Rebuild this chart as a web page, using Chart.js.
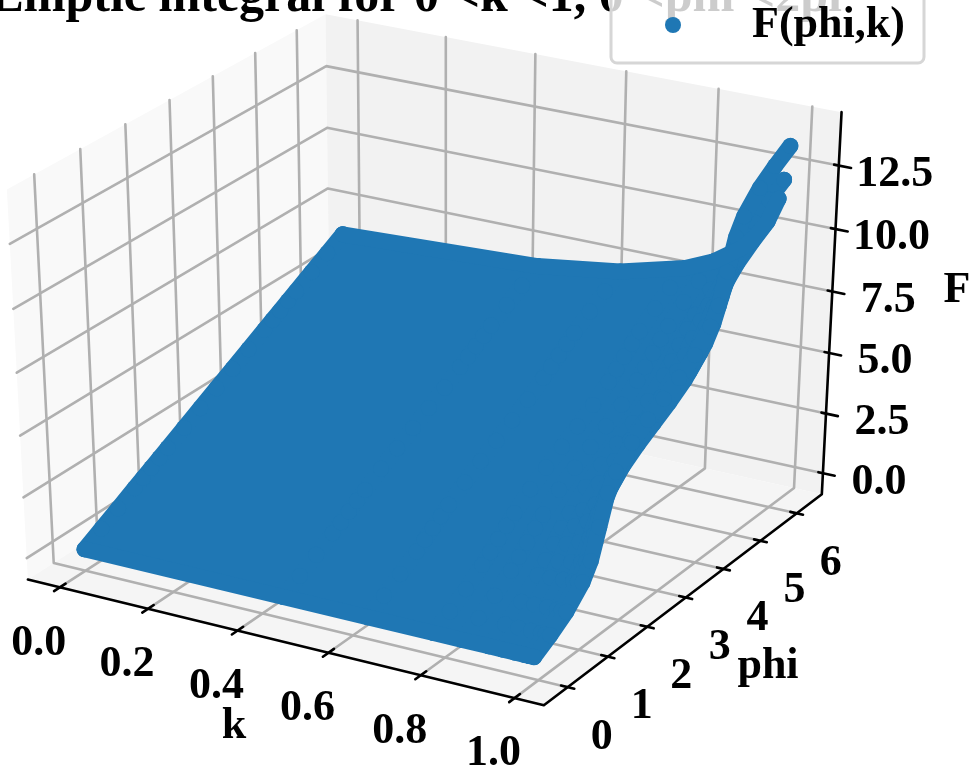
<!DOCTYPE html>
<html>
<head>
<meta charset="utf-8">
<title>Elliptic integral</title>
<script src="https://cdn.jsdelivr.net/npm/chart.js@4/dist/chart.umd.js"></script>
<style>
  html, body { margin: 0; padding: 0; background: #fff; overflow: hidden; }
  canvas { display: block; }
</style>
</head>
<body>
<canvas id="chart" width="969" height="771"></canvas>
<script>
// ── Data
const titleText = 'Elliptic integral for 0 <k <1, 0 <phi <2pi';
const legendText = 'F(phi,k)';

const kTicks = [0, 0.2, 0.4, 0.6, 0.8, 1];
const kTickLabels = ['0.0', '0.2', '0.4', '0.6', '0.8', '1.0'];
const phiTicks = [0, 1, 2, 3, 4, 5, 6];
const phiTickLabels = ['0', '1', '2', '3', '4', '5', '6'];
const fTicks = [0, 2.5, 5, 7.5, 10, 12.5];
const fTickLabels = ['0.0', '2.5', '5.0', '7.5', '10.0', '12.5'];

const kValues = [0, 0.447, 0.632, 0.775, 0.837, 0.894, 0.922, 0.949, 0.97, 0.98, 0.99];
const phiValues = [0, 0.393, 0.785, 1.178, 1.374, 1.571, 1.767, 1.963, 2.356, 2.749, 3.142, 3.534, 3.927, 4.32, 4.516, 4.712, 4.909, 5.105, 5.498, 5.89, 6.283];

const fAtK000 = [0, 0.393, 0.785, 1.178, 1.374, 1.571, 1.767, 1.963, 2.356, 2.749, 3.142, 3.534, 3.927, 4.32, 4.516, 4.712, 4.909, 5.105, 5.498, 5.89, 6.283];
const fAtK045 = [0, 0.395, 0.8, 1.223, 1.44, 1.66, 1.879, 2.096, 2.519, 2.924, 3.319, 3.714, 4.119, 4.542, 4.759, 4.979, 5.198, 5.415, 5.838, 6.243, 6.638];
const fAtK063 = [0, 0.397, 0.817, 1.279, 1.525, 1.778, 2.03, 2.276, 2.738, 3.158, 3.555, 3.952, 4.372, 4.834, 5.08, 5.333, 5.585, 5.831, 6.293, 6.713, 7.11];
const fAtK078 = [0, 0.399, 0.836, 1.35, 1.642, 1.95, 2.257, 2.549, 3.063, 3.5, 3.899, 4.298, 4.735, 5.249, 5.541, 5.849, 6.156, 6.449, 6.963, 7.4, 7.798];
const fAtK084 = [0, 0.4, 0.846, 1.395, 1.722, 2.075, 2.429, 2.756, 3.305, 3.751, 4.151, 4.551, 4.997, 5.546, 5.873, 6.226, 6.58, 6.907, 7.456, 7.902, 8.302];
const fAtK089 = [0, 0.401, 0.857, 1.449, 1.828, 2.257, 2.686, 3.065, 3.657, 4.113, 4.514, 4.915, 5.371, 5.963, 6.342, 6.771, 7.2, 7.579, 8.171, 8.627, 9.029];
const fAtK092 = [0, 0.401, 0.862, 1.481, 1.898, 2.389, 2.88, 3.297, 3.916, 4.377, 4.778, 5.179, 5.64, 6.259, 6.676, 7.167, 7.658, 8.075, 8.694, 9.155, 9.556];
const fAtK095 = [0, 0.402, 0.869, 1.519, 1.988, 2.578, 3.168, 3.637, 4.287, 4.754, 5.156, 5.558, 6.025, 6.675, 7.144, 7.734, 8.324, 8.793, 9.443, 9.91, 10.312];
const fAtK097 = [0, 0.403, 0.874, 1.553, 2.083, 2.82, 3.557, 4.087, 4.766, 5.237, 5.64, 6.043, 6.514, 7.193, 7.723, 8.46, 9.197, 9.727, 10.406, 10.877, 11.28];
const fAtK098 = [0, 0.403, 0.876, 1.572, 2.144, 3.016, 3.887, 4.459, 5.155, 5.628, 6.031, 6.434, 6.907, 7.603, 8.175, 9.047, 9.918, 10.491, 11.187, 11.66, 12.063];
const fAtK099 = [0, 0.403, 0.879, 1.592, 2.218, 3.354, 4.49, 5.116, 5.829, 6.305, 6.708, 7.111, 7.587, 8.3, 8.926, 10.062, 11.198, 11.824, 12.537, 13.013, 13.416];

const fRows = [fAtK000, fAtK045, fAtK063, fAtK078, fAtK084, fAtK089, fAtK092, fAtK095, fAtK097, fAtK098, fAtK099];

// axis limits of the 3D box
const kLim = [-0.0732, 1.0618];
const phiLim = [-0.583, 6.707];
const fLim = [-0.89, 14.57];

// ── Projection, same camera as a default mplot3d view (elev 30, azim -60)
const VIEW = { sx: 5956, sy: 4455, ox: 431, oy: 348, dist: 10 };
const EL = 30 * Math.PI / 180, AZ = -60 * Math.PI / 180;
const camW = [Math.cos(EL) * Math.cos(AZ), Math.cos(EL) * Math.sin(AZ), Math.sin(EL)];
const camU = [0.866025, 0.5, 0];
const camV = [-0.25, 0.433013, 0.866025];
const dot = (a, b) => a[0] * b[0] + a[1] * b[1] + a[2] * b[2];

function project(k, phi, f) {
  const q = [
    (k - kLim[0]) / (kLim[1] - kLim[0]) - 0.5,
    (phi - phiLim[0]) / (phiLim[1] - phiLim[0]) - 0.5,
    (f - fLim[0]) / (fLim[1] - fLim[0]) - 0.5
  ];
  const d = VIEW.dist - dot(q, camW);
  return { x: VIEW.ox + VIEW.sx * dot(q, camU) / d, y: VIEW.oy - VIEW.sy * dot(q, camV) / d };
}

// ── Dataset helpers
const datasets = [];
function addLine(pts, color, width) {
  datasets.push({ data: pts, showLine: true, borderColor: color, borderWidth: width, borderCapStyle: 'round', borderJoinStyle: 'round',
    pointRadius: 0, tension: 0, fill: false, clip: false });
}
function addPane(pts, color) {
  datasets.push({ data: pts, showLine: true, borderColor: color, backgroundColor: color, borderWidth: 0, pointRadius: 0, tension: 0, fill: 'shape', clip: false });
}

const [k0, k1] = kLim, [p0, p1] = phiLim, [f0, f1] = fLim;

// panes
addPane([project(k0, p0, f0), project(k0, p1, f0), project(k0, p1, f1), project(k0, p0, f1)], '#f9f9f9');
addPane([project(k0, p1, f0), project(k1, p1, f0), project(k1, p1, f1), project(k0, p1, f1)], '#f2f2f2');
addPane([project(k0, p0, f0), project(k1, p0, f0), project(k1, p1, f0), project(k0, p1, f0)], '#f5f5f5');

// grid
const GRID = '#b0b0b0';
kTicks.forEach(k => addLine([project(k, p0, f0), project(k, p1, f0), project(k, p1, f1)], GRID, 2.6));
phiTicks.forEach(p => addLine([project(k1, p, f0), project(k0, p, f0), project(k0, p, f1)], GRID, 2.6));
fTicks.forEach(f => addLine([project(k0, p0, f), project(k0, p1, f), project(k1, p1, f)], GRID, 2.6));

// axis lines + ticks
addLine([project(k0, p0, f0), project(k1, p0, f0), project(k1, p1, f0), project(k1, p1, f1)], '#000', 2.6);
kTicks.forEach(k => addLine([project(k, p0 - 0.13, f0), project(k, p0 + 0.13, f0)], '#000', 2.6));
phiTicks.forEach(p => addLine([project(k1 - 0.014, p, f0), project(k1 + 0.014, p, f0)], '#000', 2.6));
fTicks.forEach(f => addLine([project(k1 - 0.01, p1, f), project(k1 + 0.026, p1, f)], '#000', 2.6));

// surface
const BLUE = '#1f77b4';
const rowPoints = fRows.map((row, i) => row.map((f, j) => project(kValues[i], phiValues[j], f)));
for (let i = 0; i < rowPoints.length - 1; i++) {
  if (kValues[i + 1] > 0.96) break;
  addPane(rowPoints[i].concat(rowPoints[i + 1].slice().reverse()), BLUE);
}
rowPoints.forEach(pts => {
  datasets.push({ data: pts, showLine: true, borderColor: BLUE, backgroundColor: BLUE, borderWidth: 16,
    borderCapStyle: 'round', borderJoinStyle: 'round', pointRadius: 8, pointBorderWidth: 0, tension: 0, fill: false, clip: false });
});
// first and last phi column, these make the rounded outer edge
addLine(rowPoints.map(r => r[0]), BLUE, 16);
addLine(rowPoints.slice(0, 9).map(r => r[r.length - 1]), BLUE, 16);

// paint in array order
datasets.forEach((d, i) => { d.order = datasets.length - i; });

// ── Text + legend
const FONT = 'bold 44px "Liberation Serif"';
const textPlugin = {
  id: 'textPlugin',
  afterDraw(chart) {
    const ctx = chart.ctx;
    ctx.save();
    ctx.fillStyle = '#000';
    ctx.textAlign = 'center';
    ctx.textBaseline = 'middle';
    ctx.font = FONT;

    kTicks.forEach((k, i) => {
      const p = project(k, p0, f0);
      ctx.fillText(kTickLabels[i], p.x - 21, p.y + 56);
    });
    phiTicks.forEach((v, i) => {
      const p = project(k1, v, f0);
      ctx.fillText(phiTickLabels[i], p.x + 34, p.y + 50);
    });
    fTicks.forEach((f, i) => {
      const p = project(k1, p1, f);
      ctx.fillText(fTickLabels[i], p.x + 56, p.y + 9);
    });
    ctx.fillText('k', 234, 727);
    ctx.fillText('phi', 768, 667);
    ctx.fillText('F', 957, 291);

    // title is cut by the top edge of the picture
    ctx.textAlign = 'left';
    ctx.textBaseline = 'alphabetic';
    ctx.font = 'bold 50px "Liberation Serif"';
    ctx.fillText(titleText, -9.5, 11);

    // legend sits over the title
    ctx.beginPath();
    ctx.roundRect(611, -20, 313, 83, 6);
    ctx.fillStyle = 'rgba(255,255,255,0.8)';
    ctx.fill();
    ctx.lineWidth = 3;
    ctx.strokeStyle = '#d6d6d6';
    ctx.stroke();
    ctx.beginPath();
    ctx.arc(673, 25, 8, 0, Math.PI * 2);
    ctx.fillStyle = BLUE;
    ctx.fill();
    ctx.fillStyle = '#000';
    ctx.font = FONT;
    ctx.fillText(legendText, 752, 37);
    ctx.restore();
  }
};

new Chart(document.getElementById('chart'), {
  type: 'scatter',
  data: { datasets },
  plugins: [textPlugin],
  options: {
    responsive: false,
    animation: false,
    layout: { padding: 0, autoPadding: false },
    plugins: { legend: { display: false }, tooltip: { enabled: false }, title: { display: false } },
    scales: {
      x: { type: 'linear', min: 0, max: 969, display: false },
      y: { type: 'linear', min: 0, max: 771, reverse: true, display: false }
    }
  }
});
</script>
</body>
</html>
